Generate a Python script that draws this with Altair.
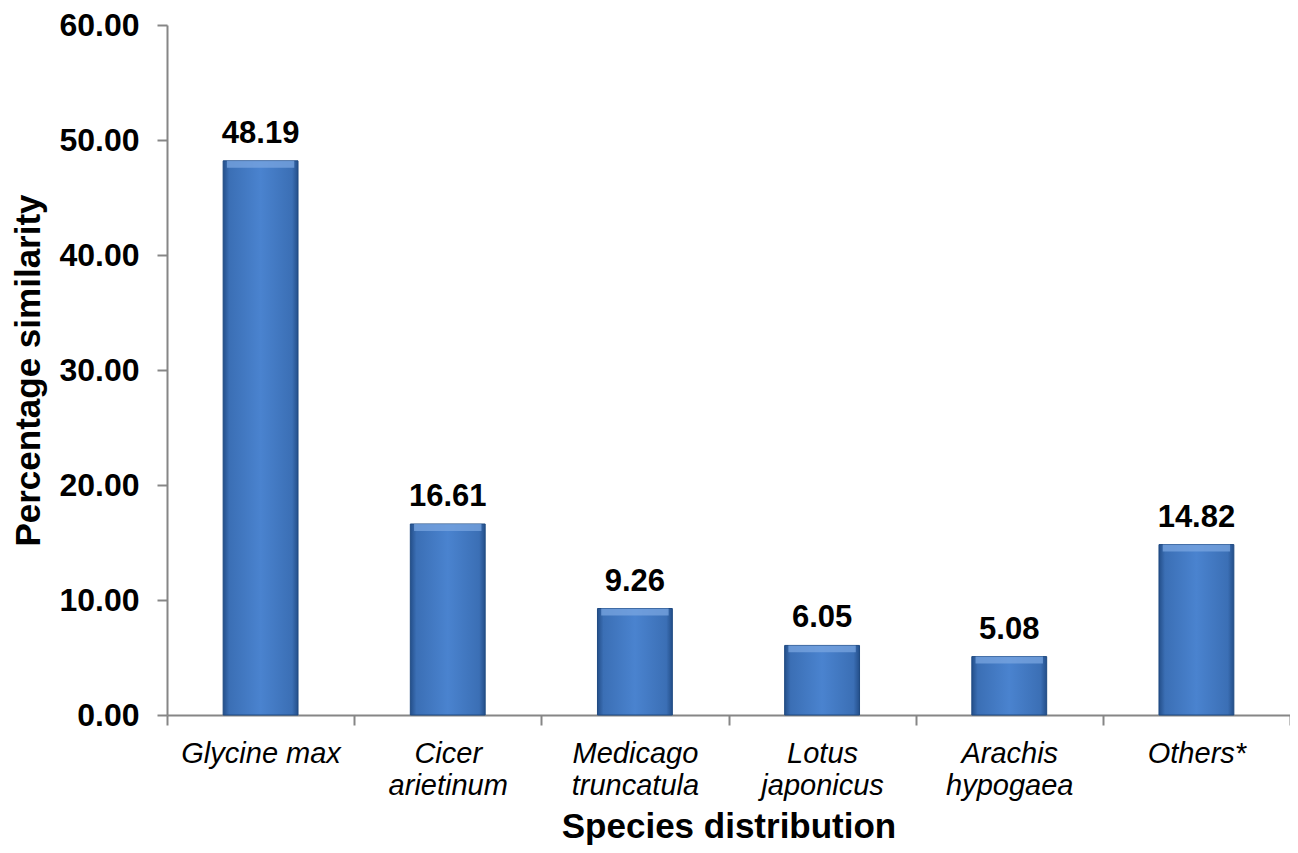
import altair as alt
import pandas as pd

species = ["Glycine max", "Cicer arietinum", "Medicago truncatula",
           "Lotus japonicus", "Arachis hypogaea", "Others*"]
values = [48.19, 16.61, 9.26, 6.05, 5.08, 14.82]
y_ticks = [0, 10, 20, 30, 40, 50, 60]

df = pd.DataFrame({"species": species, "value": values})
df["hi"] = df["value"] - 0.6

FONT = "Liberation Sans"

grad = alt.Gradient(
    gradient="linear", x1=0, x2=1, y1=0, y2=0,
    stops=[
        alt.GradientStop(offset=0, color="#244f8a"),
        alt.GradientStop(offset=0.08, color="#3b6fb5"),
        alt.GradientStop(offset=0.5, color="#4a83cf"),
        alt.GradientStop(offset=0.92, color="#3b6fb5"),
        alt.GradientStop(offset=1, color="#244f8a"),
    ],
)

x_enc = alt.X(
    "species:N", sort=species, title="Species distribution",
    scale=alt.Scale(paddingInner=0, paddingOuter=0),
    axis=alt.Axis(
        labelAngle=0, labelFont=FONT, labelFontSize=29, labelFontStyle="italic",
        labelFontWeight="normal", labelColor="#000000", labelLineHeight=32,
        labelPadding=14, tickBand="extent", tickSize=10, tickColor="#868686",
        tickWidth=2, domainColor="#868686", domainWidth=2,
        labelExpr="datum.label == 'Glycine max' ? datum.label : split(datum.label, ' ')",
        titleFont=FONT, titleFontSize=35, titleFontWeight="bold", titleColor="#000000",
        titleY=122, titleBaseline="alphabetic",
    ),
)

y_scale = alt.Scale(domain=[0, 60], nice=False)

bars = alt.Chart(df).mark_bar(
    color=grad, stroke="#1f4a82", strokeWidth=1,
    width=alt.RelativeBandSize(0.4),
).encode(
    x=x_enc,
    y=alt.Y(
        "value:Q", scale=y_scale, title="Percentage similarity",
        axis=alt.Axis(
            values=y_ticks, format=".2f", grid=False, labelFont=FONT,
            labelFontSize=32, labelFontWeight="bold", labelColor="#000000",
            labelPadding=18, tickSize=10, tickColor="#868686", tickWidth=2,
            domainColor="#868686", domainWidth=2,
            titleFont=FONT, titleFontSize=35, titleFontWeight="bold",
            titleColor="#000000", titleX=-139, titleY=345, titleAngle=270,
            titleBaseline="middle", titleAlign="center",
        ),
    ),
)

bevel = alt.Chart(df).mark_bar(
    color="#7aa6e0", opacity=0.75, width=alt.RelativeBandSize(0.36),
).encode(
    x=alt.X("species:N", sort=species),
    y=alt.Y("value:Q", scale=y_scale),
    y2="hi:Q",
)

labels = alt.Chart(df).mark_text(
    font=FONT, fontSize=31, fontWeight="bold", color="#000000",
    baseline="alphabetic", dy=-18,
).encode(
    x=alt.X("species:N", sort=species),
    y=alt.Y("value:Q", scale=y_scale),
    text=alt.Text("value:Q", format=".2f"),
)

chart = alt.layer(bars, bevel, labels).properties(
    width=1123, height=690,
    autosize=alt.AutoSizeParams(type="none"),
    padding={"left": 159, "top": 17, "right": 0, "bottom": 130},
    background="#ffffff",
).configure_view(stroke=None)

chart.save("out.html", embed_options={"renderer": "svg", "actions": False})
